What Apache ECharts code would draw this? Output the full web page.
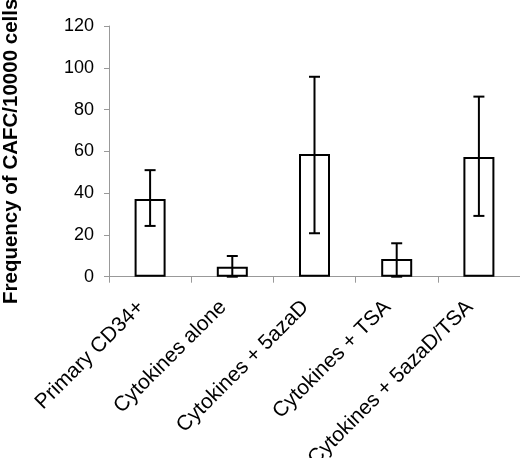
<!DOCTYPE html>
<html>
<head>
<meta charset="utf-8">
<script src="https://cdn.jsdelivr.net/npm/echarts@6/dist/echarts.min.js"></script>
<style>
html,body{margin:0;padding:0;background:#fff;width:100%;height:100%;overflow:hidden;}
#chart{width:520px;height:458px;}
</style>
</head>
<body>
<div id="chart"></div>
<script>
var categories = ['Primary CD34+', 'Cytokines alone', 'Cytokines + 5azaD', 'Cytokines + TSA', 'Cytokines + 5azaD/TSA'];
var means = [37.2, 4.8, 58.7, 8.5, 57.3];
var errHigh = [51.0, 9.9, 95.7, 16.0, 86.2];
var errLow = [24.3, 0, 20.8, 0, 29.1];
var yTicks = [0, 20, 40, 60, 80, 100, 120];

var errData = categories.map(function (c, i) { return [i, errLow[i], errHigh[i]]; });

var chart = echarts.init(document.getElementById('chart'), null, {renderer: 'canvas'});
chart.setOption({
  animation: false,
  backgroundColor: '#fff',
  grid: {left: 109, right: 0, top: 26, bottom: 181.3, containLabel: false, outerBoundsMode: 'none'},
  xAxis: {
    type: 'category',
    data: categories,
    boundaryGap: true,
    axisLine: {show: true, lineStyle: {color: '#999', width: 1}},
    axisTick: {show: true, length: 6, alignWithLabel: false, lineStyle: {color: '#999'}},
    axisLabel: {
      interval: 0, rotate: 45, margin: 18, padding: [0, 13, 0, 0],
      fontFamily: 'Liberation Sans, Arial, sans-serif', fontSize: 21, color: '#000'
    },
    splitLine: {show: false}
  },
  yAxis: {
    type: 'value',
    min: yTicks[0], max: yTicks[yTicks.length - 1], interval: 20,
    name: 'Frequency of CAFC/10000 cells',
    nameLocation: 'middle', nameRotate: 90, nameGap: 87,
    nameTextStyle: {fontFamily: 'Liberation Sans, Arial, sans-serif', fontSize: 20.5, fontWeight: 'bold', color: '#000'},
    axisLine: {show: true, lineStyle: {color: '#999', width: 1}},
    axisTick: {show: true, length: 5, lineStyle: {color: '#999'}},
    axisLabel: {margin: 15, fontFamily: 'Liberation Sans, Arial, sans-serif', fontSize: 18, color: '#000'},
    splitLine: {show: false}
  },
  series: [
    {
      type: 'bar',
      data: means,
      barWidth: 31,
      itemStyle: {color: '#fff', borderColor: '#000', borderWidth: 2}
    },
    {
      type: 'custom',
      z: 10,
      data: errData,
      renderItem: function (params, api) {
        var x = api.value(0);
        var lo = api.coord([x, api.value(1)]);
        var hi = api.coord([x, api.value(2)]);
        var hw = 5.5;
        var st = {stroke: '#000', lineWidth: 2, fill: null};
        return {
          type: 'group',
          children: [
            {type: 'line', shape: {x1: hi[0], y1: hi[1], x2: lo[0], y2: lo[1]}, style: st},
            {type: 'line', shape: {x1: hi[0] - hw, y1: hi[1], x2: hi[0] + hw, y2: hi[1]}, style: st},
            {type: 'line', shape: {x1: lo[0] - hw, y1: lo[1], x2: lo[0] + hw, y2: lo[1]}, style: st}
          ]
        };
      }
    }
  ]
});
</script>
</body>
</html>
